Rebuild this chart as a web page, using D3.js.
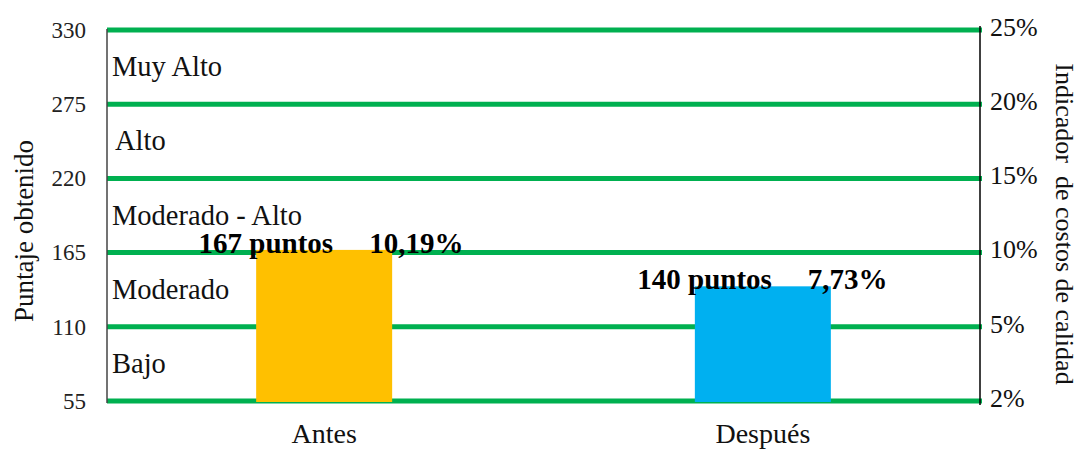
<!DOCTYPE html>
<html>
<head>
<meta charset="utf-8">
<script src="https://cdn.jsdelivr.net/npm/d3@7"></script>
<style>
  html, body { margin: 0; padding: 0; background: #fff; }
  svg { display: block; font-family: "Liberation Serif", "Times New Roman", serif; }
</style>
</head>
<body>
<svg id="chart" width="1079" height="450"></svg>
<script>
// Puntaje obtenido antes y después, con su indicador de costos de calidad
const categorias = ["Antes", "Después"];
const puntos = [167, 140];
const indicador = ["10,19%", "7,73%"];
const coloresBarras = ["#FFC000", "#00B0F0"];

const ticksPuntaje = [55, 110, 165, 220, 275, 330];
const ticksIndicador = ["2%", "5%", "10%", "15%", "20%", "25%"];
const niveles = ["Bajo", "Moderado", "Moderado - Alto", "Alto", "Muy Alto"];

const svg = d3.select("#chart");
const xIzq = 107, xDer = 980, yArriba = 30, yAbajo = 401;

const y = d3.scaleLinear().domain([55, 330]).range([yAbajo, yArriba]);
const x = d3.scaleBand().domain(categorias).range([xIzq, xDer])
  .paddingInner(0.69).paddingOuter(0.34);

// Franjas de nivel: líneas verdes en cada límite
svg.append("g").selectAll("line").data(ticksPuntaje).join("line")
  .attr("x1", xIzq).attr("x2", xDer + 2)
  .attr("y1", d => y(d)).attr("y2", d => y(d))
  .attr("stroke", "#00B050").attr("stroke-width", 5);

// Nombre de cada nivel, centrado en su franja
svg.append("g").selectAll("text").data(niveles).join("text")
  .attr("x", (d) => d === "Alto" ? xIzq + 8 : xIzq + 5)
  .attr("y", (d, i) => (y(ticksPuntaje[i]) + y(ticksPuntaje[i + 1])) / 2 + 9)
  .attr("font-size", 28.5).attr("fill", "#111")
  .text(d => d);

// Barras
svg.append("g").selectAll("rect").data(categorias).join("rect")
  .attr("x", d => x(d))
  .attr("width", x.bandwidth())
  .attr("y", (d, i) => y(puntos[i]))
  .attr("height", (d, i) => y(55) - y(puntos[i]) + 1)
  .attr("fill", (d, i) => coloresBarras[i]);

// Etiquetas de las barras
const etiquetas = svg.append("g").attr("font-weight", "bold").attr("font-size", 29).attr("fill", "#000");
etiquetas.selectAll("text.pts").data(categorias).join("text")
  .attr("class", "pts")
  .attr("x", d => x(d) + x.bandwidth() / 2 + 9)
  .attr("y", (d, i) => y(puntos[i]) + 3)
  .attr("text-anchor", "end")
  .text((d, i) => `${puntos[i]} puntos`);
etiquetas.selectAll("text.pct").data(categorias).join("text")
  .attr("class", "pct")
  .attr("x", d => x(d) + x.bandwidth() / 2 + 45)
  .attr("y", (d, i) => y(puntos[i]) + 3)
  .attr("text-anchor", "start")
  .text((d, i) => indicador[i]);

// Eje izquierdo: puntaje
const ejeY = svg.append("g").attr("transform", `translate(${xIzq},0)`)
  .call(d3.axisLeft(y).tickValues(ticksPuntaje).tickSize(0).tickPadding(21));
ejeY.attr("font-family", null).attr("font-size", null);
ejeY.select(".domain").remove();
ejeY.selectAll("text").attr("font-size", 23).attr("fill", "#222");
svg.append("line").attr("x1", xIzq).attr("x2", xIzq).attr("y1", yArriba - 1).attr("y2", yAbajo + 2)
  .attr("stroke", "#444").attr("stroke-width", 1.5);

// Eje derecho: indicador de costos
const yInd = d3.scalePoint().domain(ticksIndicador).range([yAbajo, yArriba]);
const ejeDer = svg.append("g").attr("transform", `translate(${xDer},0)`)
  .call(d3.axisRight(yInd).tickSize(0).tickPadding(10));
ejeDer.attr("font-family", null).attr("font-size", null);
ejeDer.select(".domain").remove();
ejeDer.selectAll("text").attr("font-size", 26).attr("fill", "#111")
  .attr("dy", "0.2em");
svg.append("line").attr("x1", xDer).attr("x2", xDer).attr("y1", yArriba - 4).attr("y2", yAbajo + 4)
  .attr("stroke", "#000").attr("stroke-width", 1.5);

// Eje de categorías
svg.append("g").selectAll("text").data(categorias).join("text")
  .attr("x", d => x(d) + x.bandwidth() / 2)
  .attr("y", 443)
  .attr("text-anchor", "middle")
  .attr("font-size", 28).attr("fill", "#111")
  .text(d => d);

// Títulos de los ejes
svg.append("text")
  .attr("transform", `translate(33,231) rotate(-90)`)
  .attr("text-anchor", "middle").attr("font-size", 27).attr("fill", "#111")
  .text("Puntaje obtenido");
svg.append("text")
  .attr("transform", `translate(1056,224) rotate(90)`)
  .attr("text-anchor", "middle").attr("font-size", 26).attr("fill", "#111")
  .attr("xml:space", "preserve")
  .text("Indicador  de costos de calidad");
</script>
</body>
</html>
